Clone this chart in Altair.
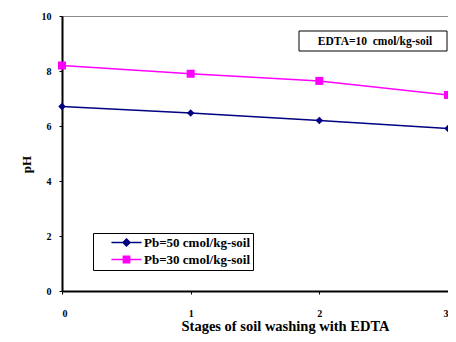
import altair as alt
import pandas as pd

stages = [0, 1, 2, 3]
series_names = ["Pb=50 cmol/kg-soil", "Pb=30 cmol/kg-soil"]
ph_pb50 = [6.71, 6.47, 6.20, 5.91]
ph_pb30 = [8.20, 7.90, 7.64, 7.13]
y_ticks = [0, 2, 4, 6, 8, 10]
x_ticks = [0, 1, 2, 3]
note_text = ["EDTA=10\u00a0 cmol/kg-soil"]
x_title = "Stages of soil washing with EDTA"
y_title = "pH"

colors = ["#000080", "#FF00FF"]
legend_paths = [
    "M-4.3,0H4.3M0,-1L1,0L0,1L-1,0Z",
    "M-4.3,0H4.3M-0.9,-0.9H0.9V0.9H-0.9Z",
]

df = pd.DataFrame({
    "stage": stages * 2,
    "ph": ph_pb50 + ph_pb30,
    "series": [series_names[0]] * len(stages) + [series_names[1]] * len(stages),
})

FONT = "Liberation Serif"

x_enc = alt.X(
    "stage:Q",
    scale=alt.Scale(domain=[0, 3], nice=False, zero=False),
    axis=alt.Axis(
        values=x_ticks, grid=False, format="d",
        domainColor="black", domainWidth=2, tickColor="black", tickSize=3,
        labelFont=FONT, labelFontSize=10, labelFontWeight="bold", labelColor="black",
        labelPadding=14,
        title=x_title, titleFont=FONT, titleFontSize=14.5, titleFontWeight="bold",
        titleColor="black", titleX=223, titleY=39, titleAlign="center",
        titleBaseline="alphabetic",
    ),
)
y_enc = alt.Y(
    "ph:Q",
    scale=alt.Scale(domain=[0, 10], nice=False),
    axis=alt.Axis(
        values=y_ticks, grid=False, format="d",
        domainColor="black", domainWidth=2, tickColor="black", tickSize=3,
        labelFont=FONT, labelFontSize=10, labelFontWeight="bold", labelColor="black",
        labelPadding=8,
        title=y_title, titleFont=FONT, titleFontSize=13, titleFontWeight="bold",
        titleColor="black", titleX=-36, titleY=148, titleAngle=270,
        titleAlign="center", titleBaseline="middle",
    ),
)

base = alt.Chart(df)

line50 = base.transform_filter(alt.datum.series == series_names[0]).mark_line(
    color=colors[0], strokeWidth=1.5).encode(x=x_enc, y=y_enc)
line30 = base.transform_filter(alt.datum.series == series_names[1]).mark_line(
    color=colors[1], strokeWidth=1.5).encode(x=x_enc, y=y_enc)
pts50 = base.transform_filter(alt.datum.series == series_names[0]).mark_point(
    shape="diamond", filled=True, color=colors[0], size=55, opacity=1).encode(x=x_enc, y=y_enc)
pts30 = base.transform_filter(alt.datum.series == series_names[1]).mark_point(
    shape="square", filled=True, color=colors[1], size=64, opacity=1).encode(x=x_enc, y=y_enc)

leg = alt.Legend(
    title=None, orient="none", legendX=31, legendY=217,
    strokeColor="black", fillColor="white", padding=3, rowPadding=3,
    labelFont=FONT, labelFontSize=13, labelFontWeight="bold", labelColor="black",
    labelExpr="datum.label + '\u2003\u2003\u2003'",
    symbolOffset=24, labelOffset=11, symbolSize=49, symbolOpacity=1,
)
legend_layer = base.transform_filter("datum.stage < 0").mark_point(
    filled=True, size=49, strokeWidth=1.5, opacity=1).encode(
    x=x_enc, y=y_enc,
    shape=alt.Shape("series:N", scale=alt.Scale(domain=series_names, range=legend_paths), legend=leg),
    fill=alt.Fill("series:N", scale=alt.Scale(domain=series_names, range=colors), legend=leg),
    stroke=alt.Stroke("series:N", scale=alt.Scale(domain=series_names, range=colors), legend=leg),
)

note_df = pd.DataFrame({"note": note_text})
note_rect = alt.Chart(note_df).mark_rect(fill="white", stroke="black", strokeWidth=1).encode(
    x=alt.value(237), x2=alt.value(385), y=alt.value(15), y2=alt.value(35))
note_txt = alt.Chart(note_df).mark_text(
    font=FONT, fontSize=11.5, fontWeight="bold", color="black", align="center", baseline="middle"
).encode(x=alt.value(313), y=alt.value(25.5), text="note:N")

chart = alt.layer(line50, line30, pts50, pts30, legend_layer, note_rect, note_txt).properties(
    width=386, height=275,
    padding={"left": 54, "top": 8, "right": 0, "bottom": 43},
    autosize=alt.AutoSizeParams(type="none"),
).configure_view(stroke="#8c8c8c", strokeWidth=1)

chart.save("out.html", embed_options={"renderer": "svg", "actions": False})
